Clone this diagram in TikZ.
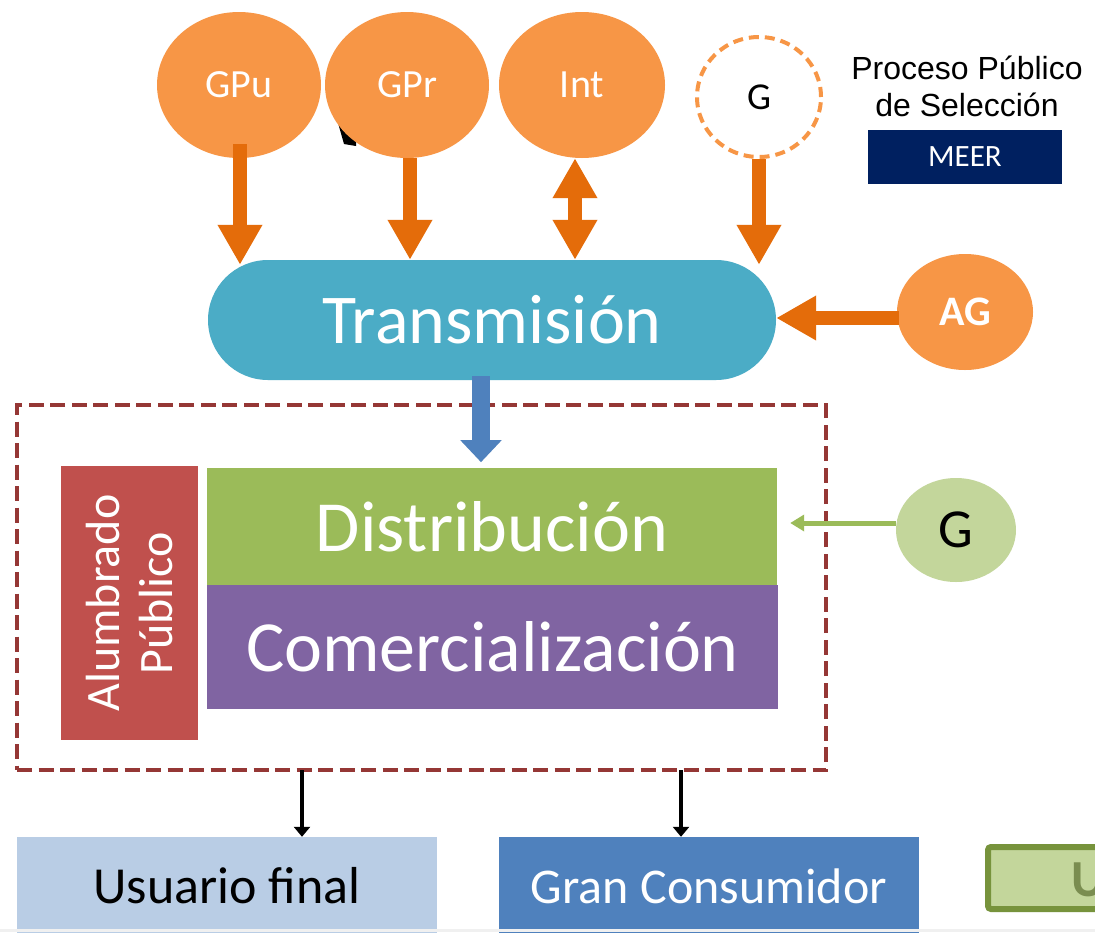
\documentclass[tikz,border=0pt]{standalone}
\usepackage{fontspec}
\setmainfont{Carlito}
\newfontfamily\arialf{Liberation Sans}
\usetikzlibrary{arrows.meta,shapes.geometric,calc}
\definecolor{orfill}{HTML}{F79646}
\definecolor{ordark}{HTML}{E46C0A}
\definecolor{transc}{HTML}{4BACC6}
\definecolor{distc}{HTML}{9BBB59}
\definecolor{comc}{HTML}{8064A2}
\definecolor{alumc}{HTML}{C0504D}
\definecolor{usuc}{HTML}{B9CDE5}
\definecolor{granc}{HTML}{4F81BD}
\definecolor{meerc}{HTML}{002060}
\definecolor{gc}{HTML}{C3D69B}
\definecolor{gdark}{HTML}{77933C}
\definecolor{framec}{HTML}{953735}
\tikzset{
  gen/.style={ellipse, fill=orfill, inner sep=0pt, text=white},
  fsz/.style={font=\fontsize{#1}{#1}\selectfont},
  block/.style={rectangle, inner sep=0pt, text=white},
  orarrow/.style={draw=ordark, line width=14pt, -{Triangle[width=42pt,length=40pt]}},
  orbiarrow/.style={draw=ordark, line width=14pt, {Triangle[width=42pt,length=40pt]}-{Triangle[width=42pt,length=40pt]}},
  blarrow/.style={draw=granc, line width=18pt, -{Triangle[width=40pt,length=22pt]}},
  bkarrow/.style={draw=black, line width=4pt, -{Triangle[width=16pt,length=10pt]}},
  grarrow/.style={draw=distc, line width=5pt, -{Triangle[width=16pt,length=14pt]}},
}
\begin{document}
\begin{tikzpicture}[x=1pt,y=-1pt]
\useasboundingbox (0,0) rectangle (1095,932);
\clip (0,0) rectangle (1095,932);
\fill[white] (0,0) rectangle (1095,932);
% small black fragment behind GPr
\fill[black] (338,123) -- (344,144) -- (356,146) -- (356,128) -- cycle;
% top generators
\node[gen, minimum width=164pt, minimum height=146pt, fsz=40] (GPu) at (239,85) {GPu};
\node[gen, minimum width=164pt, minimum height=146pt, fsz=40] (GPr) at (407,85) {GPr};
\node[gen, minimum width=166pt, minimum height=146pt, fsz=40] (Int) at (582,85) {Int};
\node[ellipse, draw=orfill, line width=4pt, dash pattern=on 10pt off 6pt, fill=white, minimum width=124pt, minimum height=120pt, inner sep=0pt, fsz=38] (Gd) at (759,97) {G};
% Proceso / MEER
\node[align=center, font=\arialf\fontsize{32}{37}\selectfont] (proc) at (967,86) {Proceso Público\\de Selección};
\node[block, fill=meerc, minimum width=194pt, minimum height=54pt, fsz=31] (meer) at (965,157) {MEER};
% Transmision
\node[block, fill=transc, minimum width=568pt, minimum height=120pt, rounded corners=60pt, fsz=70] (Trans) at (492,320) {Transmisión};
% AG
\node[gen, minimum width=136pt, minimum height=116pt, font=\bfseries\fontsize{42}{42}\selectfont] (AG) at (965,312) {AG};
% orange arrows
\draw[orarrow] ($(GPu.south)+(1,-14)$) -- ($(GPu.south |- Trans.north)+(1,5)$);
\draw[orarrow] ($(GPr.south)+(3,0)$) -- ($(GPr.south |- Trans.north)+(3,0)$);
\draw[orbiarrow] ($(Int.south)+(-7,0)$) -- ($(Int.south |- Trans.north)+(-7,0)$);
\draw[orarrow] (Gd.south) -- ($(Gd.south |- Trans.north)+(0,5)$);
\draw[orarrow] ($(AG.west |- Trans.east)+(2,-2)$) -- ($(Trans.east)+(0,-2)$);
% frame
\node[draw=framec, line width=4pt, dash pattern=on 15pt off 6.5pt, minimum width=809pt, minimum height=365pt, inner sep=0pt] (frame) at (421.5,587.5) {};
% blue arrow
\draw[blarrow] ($(Trans.south)+(-11,-4)$) -- ($(Trans.south)+(-11,82)$);
% inner blocks
\node[block, fill=alumc, minimum width=137pt, minimum height=274pt] (Alum) at (129.5,603) {};
\node[rotate=90, align=center, text=white, font=\fontsize{48}{53}\selectfont] (AlumT) at (Alum.center) {Alumbrado\\Público};
\node[block, fill=distc, minimum width=570pt, minimum height=118pt, fsz=72] (Dist) at (492,527) {Distribución};
\node[block, fill=comc, minimum width=571pt, minimum height=124pt, fsz=72] (Com) at (492.5,647) {Comercialización};
% G green
\node[ellipse, fill=gc, minimum width=120pt, minimum height=104pt, inner sep=0pt, fsz=55] (G2) at (956,530) {G};
\draw[grarrow] ($(G2.west)+(0,-7)$) -- ($(G2.west -| Dist.east)+(13,-7)$);
% bottom boxes
\node[block, fill=usuc, text=black, minimum width=420pt, minimum height=110pt, fsz=52] (Usu) at (227,892) {};
\node[text=black, fsz=52] (UsuT) at (227,886) {Usuario final};
\node[block, fill=granc, minimum width=420pt, minimum height=110pt] (Gran) at (709,892) {};
\node[text=white, fsz=50] (GranT) at (709,886) {Gran Consumidor};
\coordinate (f1) at (302,770);
\coordinate (f2) at (681,770);
\draw[bkarrow] (f1) -- (f1 |- Usu.north);
\draw[bkarrow] (f2) -- (f2 |- Gran.north);
% partial green box
\node[rectangle, draw=gdark, fill=gc, line width=6pt, rounded corners=3pt, minimum width=150pt, minimum height=62pt, anchor=north west] (part) at (985,844) {};
\node[text=gdark!70!gray, font=\bfseries\fontsize{52}{52}\selectfont, anchor=west] (partT) at (1068,880) {U};
\fill[gray!12] (0,929) rectangle (1095,932);
\end{tikzpicture}
\end{document}
